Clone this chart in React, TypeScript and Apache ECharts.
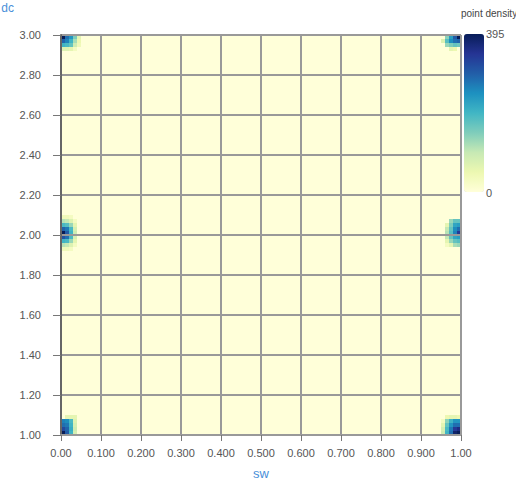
import React, { useEffect, useRef } from 'react';
import * as echarts from 'echarts';

// Axis ticks and their printed labels
const xTickValues = [0, 0.1, 0.2, 0.3, 0.4, 0.5, 0.6, 0.7, 0.8, 0.9, 1];
const xTickLabels = ['0.00', '0.100', '0.200', '0.300', '0.400', '0.500', '0.600', '0.700', '0.800', '0.900', '1.00'];
const yTickValues = [1, 1.2, 1.4, 1.6, 1.8, 2, 2.2, 2.4, 2.6, 2.8, 3];
const yTickLabels = ['1.00', '1.20', '1.40', '1.60', '1.80', '2.00', '2.20', '2.40', '2.60', '2.80', '3.00'];

// Binning of the density grid
const xMin = 0;
const yMin = 1;
const xBinCount = 100;
const yBinCount = 100;
const xBinWidth = 0.01;
const yBinHeight = 0.02;

// Non-zero density cells, grouped in blobs. firstX = first x-bin index,
// topY = y-bin index of the first row; rows go from top to bottom.
const blobTopLeft = {
  firstX: 0, topY: 99,
  rows: [
    [395, 280, 240, 150, 60],
    [290, 260, 200, 120, 50],
    [200, 190, 170, 90, 40],
    [70, 70, 60, 30, 0],
  ],
};
const blobTopRight = {
  firstX: 95, topY: 99,
  rows: [
    [0, 140, 230, 300, 395],
    [70, 180, 250, 280, 290],
    [0, 130, 150, 170, 160],
    [0, 0, 60, 50, 0],
  ],
};
const blobMidLeft = {
  firstX: 0, topY: 54,
  rows: [
    [40, 40, 30, 0],
    [110, 100, 70, 30],
    [190, 180, 130, 60],
    [290, 270, 190, 80],
    [395, 300, 200, 90],
    [310, 280, 190, 80],
    [200, 190, 130, 60],
    [110, 100, 70, 30],
    [40, 40, 30, 0],
  ],
};
const blobMidRight = {
  firstX: 96, topY: 53,
  rows: [
    [0, 130, 170, 170],
    [60, 150, 220, 230],
    [100, 170, 250, 280],
    [110, 180, 260, 340],
    [100, 170, 220, 230],
    [60, 130, 170, 180],
    [30, 60, 120, 130],
  ],
};
const blobBottomLeft = {
  firstX: 0, topY: 4,
  rows: [
    [0, 60, 60, 60, 0],
    [260, 250, 190, 70, 0],
    [280, 270, 200, 80, 0],
    [320, 290, 210, 90, 0],
    [395, 300, 200, 80, 0],
  ],
};
const blobBottomRight = {
  firstX: 95, topY: 4,
  rows: [
    [0, 50, 60, 60, 50],
    [30, 140, 200, 240, 240],
    [60, 170, 240, 280, 280],
    [80, 190, 270, 340, 360],
    [90, 200, 280, 380, 395],
  ],
};
const blobs = [blobTopLeft, blobTopRight, blobMidLeft, blobMidRight, blobBottomLeft, blobBottomRight];

const densityColors = ['#ffffd9', '#edf8b1', '#c7e9b4', '#7fcdbb', '#41b6c4', '#1d91c0', '#225ea8', '#253494', '#081d58'];

function buildCells() {
  const grid: number[][] = [];
  for (let i = 0; i < xBinCount; i++) {
    grid.push(new Array(yBinCount).fill(0));
  }
  blobs.forEach((b) => {
    b.rows.forEach((row, r) => {
      row.forEach((v, c) => {
        grid[b.firstX + c][b.topY - r] = v;
      });
    });
  });
  const cells: number[][] = [];
  for (let i = 0; i < xBinCount; i++) {
    for (let j = 0; j < yBinCount; j++) {
      cells.push([xMin + i * xBinWidth, yMin + j * yBinHeight, grid[i][j]]);
    }
  }
  return cells;
}

function lookup(values: number[], labels: string[], v: number) {
  const idx = values.findIndex((t) => Math.abs(t - v) < 1e-6);
  return idx >= 0 ? labels[idx] : '';
}

export default function App() {
  const ref = useRef<HTMLDivElement>(null);
  useEffect(() => {
    if (!ref.current) return;
    const chart = echarts.init(ref.current, undefined, { renderer: 'svg' });
    const cells = buildCells();
    const maxValue = Math.max(...cells.map((c) => c[2]));
    const font = 'Liberation Sans, Arial, sans-serif';
    chart.setOption({
      animation: false,
      textStyle: { fontFamily: font },
      grid: { left: 61, right: 55, top: 35, bottom: 44, outerBoundsMode: 'none', containLabel: false },
      xAxis: {
        type: 'value',
        min: 0,
        max: 1,
        interval: 0.1,
        z: 10,
        name: 'sw',
        nameLocation: 'middle',
        nameGap: 32,
        nameTextStyle: { color: '#4a90d9', fontSize: 13, lineHeight: 12, fontFamily: font },
        axisLine: { show: true, lineStyle: { color: '#999', width: 2 } },
        axisTick: { show: true, length: 6, lineStyle: { color: '#777' } },
        axisLabel: {
          color: '#555',
          fontSize: 11,
          margin: 12,
          fontFamily: font,
          formatter: (v: number) => lookup(xTickValues, xTickLabels, v),
        },
        splitLine: { show: true, lineStyle: { color: '#999', width: 2 } },
      },
      yAxis: {
        type: 'value',
        min: 1,
        max: 3,
        interval: 0.2,
        z: 10,
        name: 'dc',
        nameLocation: 'end',
        nameGap: 21,
        nameTextStyle: { color: '#4a90d9', fontSize: 12, align: 'right', padding: [0, 47, 0, 0], fontFamily: font },
        axisLine: { show: true, lineStyle: { color: '#666', width: 2 } },
        axisTick: { show: true, length: 8, lineStyle: { color: '#777' } },
        axisLabel: {
          color: '#555',
          fontSize: 11,
          margin: 20,
          fontFamily: font,
          formatter: (v: number) => lookup(yTickValues, yTickLabels, v),
        },
        splitLine: { show: true, lineStyle: { color: '#999', width: 2 } },
      },
      visualMap: {
        type: 'continuous',
        min: 0,
        max: maxValue,
        dimension: 2,
        seriesIndex: 0,
        calculable: false,
        orient: 'vertical',
        left: 449,
        top: 19,
        itemWidth: 20,
        itemHeight: 158,
        text: null,
        inRange: { color: densityColors },
      },
      graphic: [
        { type: 'text', left: 461, top: 8, z: 100, style: { text: 'point density', fill: '#444', font: `10px ${font}` } },
        { type: 'text', left: 486, top: 28, z: 100, style: { text: String(maxValue), fill: '#555', font: `11px ${font}` } },
        { type: 'text', left: 486, top: 187, z: 100, style: { text: '0', fill: '#555', font: `11px ${font}` } },
      ],
      series: [
        {
          type: 'custom',
          z: 2,
          data: cells,
          encode: { x: 0, y: 1 },
          renderItem: (params: any, api: any) => {
            const x = api.value(0);
            const y = api.value(1);
            const p0 = api.coord([x, y + yBinHeight]);
            const p1 = api.coord([x + xBinWidth, y]);
            return {
              type: 'rect',
              shape: { x: p0[0], y: p0[1], width: p1[0] - p0[0], height: p1[1] - p0[1] },
              style: { fill: api.visual('color') },
            };
          },
        },
      ],
    });
    return () => chart.dispose();
  }, []);
  return <div ref={ref} style={{ width: 516, height: 479, position: 'absolute', left: 0, top: 0 }} />;
}
